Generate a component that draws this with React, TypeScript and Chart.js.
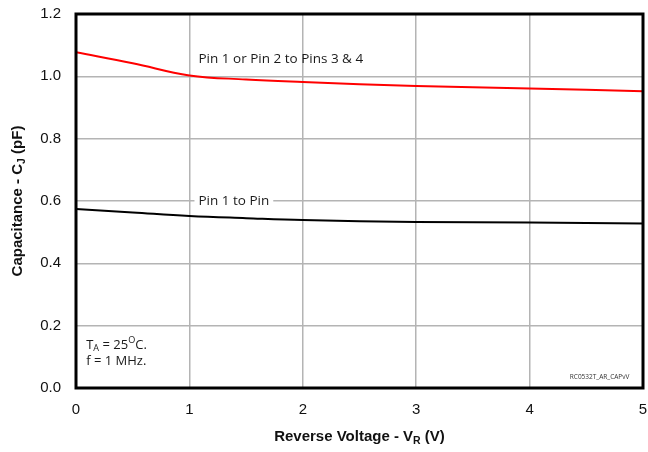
import React, { useEffect, useRef } from "react";
import { Chart, registerables } from "chart.js";

Chart.register(...registerables);

const voltage = [0, 0.5, 1, 1.5, 2, 3, 4, 5];
const pin12to34 = [1.077, 1.042, 1.003, 0.99, 0.982, 0.969, 0.961, 0.952];
const pin1toPin = [0.574, 0.563, 0.552, 0.545, 0.539, 0.533, 0.531, 0.528];
const xTicks = [0, 1, 2, 3, 4, 5];
const yTicks = [0, 0.2, 0.4, 0.6, 0.8, 1.0, 1.2];

const labelRed = "Pin 1 or Pin 2 to Pins 3 & 4";
const labelBlack = "Pin 1 to Pin";
const fileTag = "RC0532T_AR_CAPvV";

const SANS = "'Liberation Sans', Arial, sans-serif";
const NOTE = "'Open Sans', 'Noto Sans', sans-serif";

function drawSub(ctx: CanvasRenderingContext2D, parts: { t: string; s?: "sub" | "sup" }[], x: number, y: number, size: number, weight: string, family: string, align: "left" | "center") {
  const font = (sz: number) => `${weight} ${sz}px ${family}`;
  let total = 0;
  for (const p of parts) {
    ctx.font = font(p.s ? size * 0.7 : size);
    total += ctx.measureText(p.t).width;
  }
  let cx = align === "center" ? x - total / 2 : x;
  ctx.textAlign = "left";
  ctx.textBaseline = "middle";
  for (const p of parts) {
    const sz = p.s ? size * 0.7 : size;
    ctx.font = font(sz);
    const dy = p.s === "sub" ? size * 0.3 : p.s === "sup" ? -size * 0.35 : 0;
    ctx.fillText(p.t, cx, y + dy);
    cx += ctx.measureText(p.t).width;
  }
}

const overlay = {
  id: "overlay",
  afterDatasetsDraw(chart: any) {
    const { ctx, chartArea: a, scales } = chart;
    const xs = scales.x, ys = scales.y;
    ctx.save();
    ctx.strokeStyle = "#000";
    ctx.lineWidth = 3;
    ctx.strokeRect(a.left, a.top, a.right - a.left, a.bottom - a.top);
    ctx.fillStyle = "#1a1a1a";
    ctx.font = `13.5px ${NOTE}`;
    ctx.textAlign = "left";
    ctx.textBaseline = "middle";
    const lx = xs.getPixelForValue(1.08);
    ctx.fillText(labelRed, lx, ys.getPixelForValue(1.054));
    const w = ctx.measureText(labelBlack).width;
    const by = ys.getPixelForValue(0.6);
    ctx.fillStyle = "#fff";
    ctx.fillRect(lx - 4, by - 8, w + 8, 16);
    ctx.fillStyle = "#1a1a1a";
    ctx.fillText(labelBlack, lx, by);
    const tx = xs.getPixelForValue(0.09);
    drawSub(ctx, [{ t: "T" }, { t: "A", s: "sub" }, { t: " = 25" }, { t: "O", s: "sup" }, { t: "C." }], tx, ys.getPixelForValue(0.138), 13, "normal", NOTE, "left");
    drawSub(ctx, [{ t: "f = 1 MHz." }], tx, ys.getPixelForValue(0.086), 13, "normal", NOTE, "left");
    ctx.font = `6.5px ${NOTE}`;
    ctx.textAlign = "right";
    ctx.fillStyle = "#333";
    ctx.fillText(fileTag, xs.getPixelForValue(4.88), ys.getPixelForValue(0.034));
    ctx.fillStyle = "#111";
    drawSub(ctx, [{ t: "Reverse Voltage - V" }, { t: "R", s: "sub" }, { t: " (V)" }], (a.left + a.right) / 2, 437, 15, "bold", SANS, "center");
    ctx.save();
    ctx.translate(18, (a.top + a.bottom) / 2);
    ctx.rotate(-Math.PI / 2);
    drawSub(ctx, [{ t: "Capacitance - C" }, { t: "J", s: "sub" }, { t: " (pF)" }], 0, 0, 15, "bold", SANS, "center");
    ctx.restore();
    ctx.restore();
  },
};

const zeroPad = (s: any) => {
  s.paddingLeft = 0; s.paddingRight = 0; s.paddingTop = 0; s.paddingBottom = 0;
};

export default function App() {
  const ref = useRef<HTMLCanvasElement>(null);
  useEffect(() => {
    document.body.style.margin = "0";
    const chart = new Chart(ref.current!, {
      type: "line",
      data: {
        datasets: [
          {
            label: labelRed,
            data: voltage.map((v, i) => ({ x: v, y: pin12to34[i] })),
            borderColor: "#ff0000",
            borderWidth: 2,
            pointRadius: 0,
            tension: 0.4,
          },
          {
            label: labelBlack,
            data: voltage.map((v, i) => ({ x: v, y: pin1toPin[i] })),
            borderColor: "#000000",
            borderWidth: 2,
            pointRadius: 0,
            tension: 0.4,
          },
        ],
      },
      options: {
        animation: false,
        responsive: false,
        layout: { padding: { top: 14, right: 5, left: 0, bottom: 0 } },
        plugins: { legend: { display: false }, tooltip: { enabled: false } },
        scales: {
          x: {
            type: "linear",
            min: 0,
            max: 5,
            afterFit: (s: any) => { s.height = 64; zeroPad(s); },
            afterBuildTicks: (s: any) => { s.ticks = xTicks.map((v) => ({ value: v })); },
            grid: { color: "#b4b4b4", lineWidth: 1.5, drawTicks: false },
            border: { display: false },
            ticks: { color: "#111", font: { family: SANS, size: 15 }, padding: 13 },
          },
          y: {
            min: 0,
            max: 1.2,
            afterFit: (s: any) => { s.width = 76; zeroPad(s); },
            afterBuildTicks: (s: any) => { s.ticks = yTicks.map((v) => ({ value: v })); },
            grid: { color: "#b4b4b4", lineWidth: 1.5, drawTicks: false },
            border: { display: false },
            ticks: { color: "#111", font: { family: SANS, size: 15 }, padding: 15, callback: (v: any) => Number(v).toFixed(1) },
          },
        },
      },
      plugins: [overlay],
    } as any);
    return () => chart.destroy();
  }, []);
  return <canvas ref={ref} width={648} height={452} style={{ display: "block" }} />;
}
